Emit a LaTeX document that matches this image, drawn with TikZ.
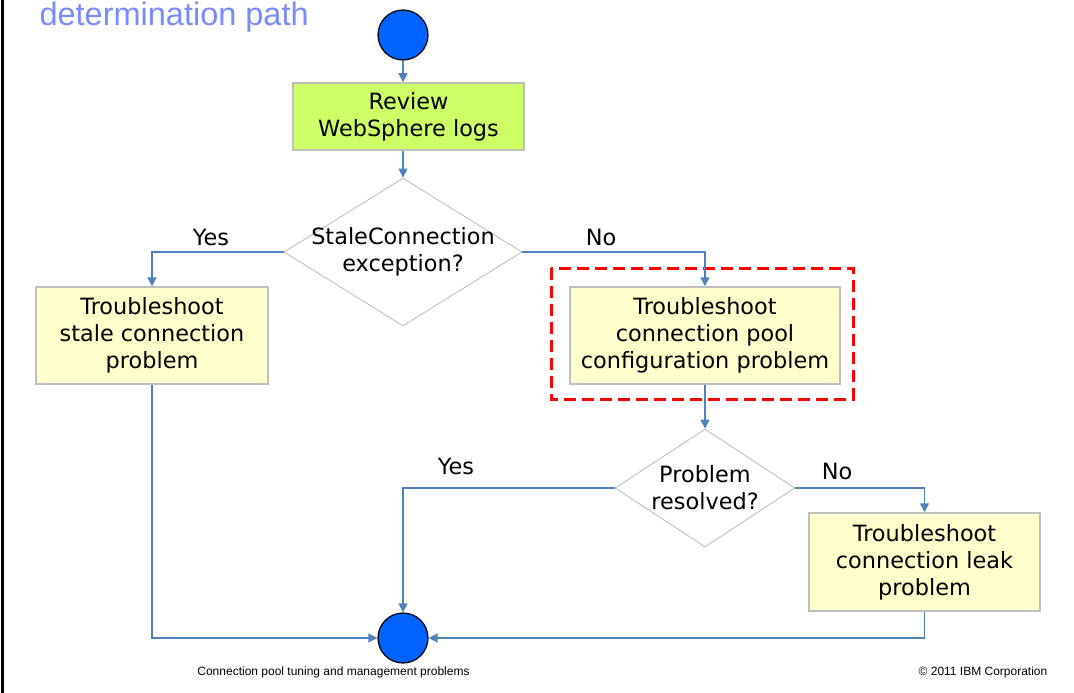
\documentclass[tikz,border=0pt]{standalone}
\usepackage{fontspec}
\setmainfont{Liberation Sans}
\newfontfamily\boxfont{DejaVu Sans}
\usetikzlibrary{shapes.geometric,arrows.meta}

\definecolor{flowblue}{RGB}{79,129,189}
\definecolor{titleblue}{RGB}{122,138,255}
\definecolor{dotblue}{RGB}{0,98,255}
\definecolor{boxgreen}{RGB}{204,255,102}
\definecolor{boxyellow}{RGB}{255,255,204}
\definecolor{edgegray}{RGB}{190,190,190}

\tikzset{
    boxtext/.style={font=\boxfont\fontsize{22.4}{27}\selectfont, align=center},
    stepbox/.style={boxtext, draw=edgegray, line width=1.5pt, fill=boxyellow, inner sep=0pt},
    choice/.style={boxtext, diamond, draw=edgegray, line width=0.9pt, fill=white, inner xsep=-80pt, inner ysep=-40pt},
    dot/.style={circle, draw=black, line width=1.2pt, fill=dotblue, minimum size=50pt, inner sep=0pt},
    flow/.style={draw=flowblue, line width=1.6pt, -{Triangle[length=9pt,width=9pt]}},
    answer/.style={boxtext}
}

\begin{document}
\begin{tikzpicture}[x=1pt,y=-1pt]
    \useasboundingbox (0,0) rectangle (1074,693);
    \draw[line width=3pt] (2,0) -- (2,693);

    \node[text=titleblue, font=\fontsize{32.5}{36}\selectfont, anchor=base west] (title) at (36,26) {determination path};

    % red frame round the pool step
    \draw[red, line width=3pt, dash pattern=on 12pt off 6pt] (551,268) rectangle (853,399);

    \node[dot] (start) at (403,35) {};
    \node[stepbox, fill=boxgreen, minimum width=231pt, minimum height=67pt] (review) at (408.5,116.5) {Review\\WebSphere logs};
    \node[choice, minimum width=238pt, minimum height=148pt] (stale) at (403,252) {StaleConnection\\exception?};
    \node[stepbox, minimum width=232pt, minimum height=97pt] (stalefix) at (152,335.5) {Troubleshoot\\stale connection\\problem};
    \node[stepbox, minimum width=270pt, minimum height=97pt] (poolfix) at (705,335.5) {Troubleshoot\\connection pool\\configuration problem};
    \node[choice, minimum width=180pt, minimum height=118pt] (resolved) at (705,488) {Problem\\resolved?};
    \node[stepbox, minimum width=231pt, minimum height=98pt] (leakfix) at (924.5,562) {Troubleshoot\\connection leak\\problem};
    \node[dot] (stop) at (403,638) {};

    \draw[flow] (start) -- (start |- review.north);
    \draw[flow] (start |- review.south) -- (stale.north);
    \draw[flow] (stale.west) -| (stalefix.north);
    \draw[flow] (stale.east) -| (poolfix.north);
    \draw[flow] (poolfix.south) -- (resolved.north);
    \draw[flow] (resolved.west) -| (stop.north);
    \draw[flow] (resolved.east) -| (leakfix.north);
    \draw[flow] (stalefix.south) |- (stop.west);
    \draw[flow] (leakfix.south) |- (stop.east);

    \node[answer] (yes1) at (211,237) {Yes};
    \node[answer] (no1) at (601,237) {No};
    \node[answer] (yes2) at (456,466) {Yes};
    \node[answer] (no2) at (837,471) {No};

    \node[font=\fontsize{12}{14}\selectfont] (foot) at (333.5,672) {Connection pool tuning and management problems};
    \node[font=\fontsize{12}{14}\selectfont] (copy) at (983,672) {\textcopyright{} 2011 IBM Corporation};
\end{tikzpicture}
\end{document}
